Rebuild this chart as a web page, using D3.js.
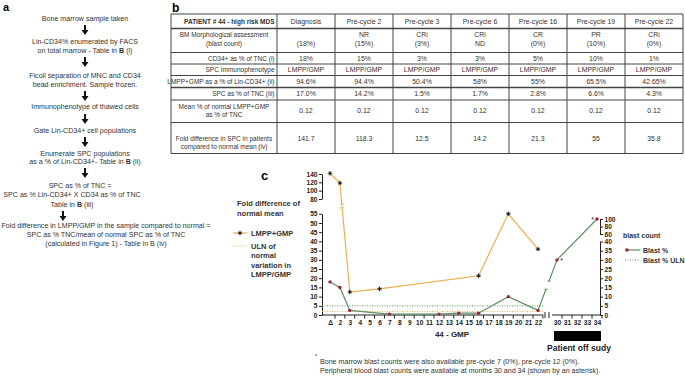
<!DOCTYPE html>
<html>
<head>
<meta charset="utf-8">
<script src="https://cdn.jsdelivr.net/npm/d3@7"></script>
<style>
    body { margin: 0; background: #fff; }
    svg { display: block; font-family: "Liberation Sans", Arial, sans-serif; }
</style>
</head>
<body>
<svg id="fig" width="685" height="376"></svg>
<script>
// ---- panel a: workflow text (**x** = bold)
const flowSteps = [
    ['Bone marrow sample taken'],
    ['Lin-CD34% enumerated by FACS', 'on total marrow - Table in **B** (i)'],
    ['Ficoll separation of MNC and CD34', 'bead enrichment. Sample frozen.'],
    ['Immunophenotype of thawed cells'],
    ['Gate Lin-CD34+ cell populations'],
    ['Enumerate SPC populations', 'as a % of Lin-CD34+- Table in **B** (ii)'],
    ['SPC as % of TNC =', 'SPC as % Lin-CD34+ X CD34 as % of TNC', 'Table in  **B** (iii)'],
    ['Fold difference in LMPP/GMP in the sample compared to normal =',
     'SPC as % TNC/mean of normal SPC as % of TNC',
     '(calculated in Figure 1) - Table in B (iv)']
];

// ---- panel b: table
const timepoints = ['Diagnosis', 'Pre-cycle 2', 'Pre-cycle 3', 'Pre-cycle 6', 'Pre-cycle 16', 'Pre-cycle 19', 'Pre-cycle 22'];
const rowLabels = [
    ['PATIENT # 44 - high risk MDS'],
    ['BM Morphological assessment', '(blast count)'],
    ['CD34+ as % of TNC (i)'],
    ['SPC Immunophenotype'],
    ['LMPP+GMP as a % of Lin-CD34+ (ii)'],
    ['SPC as % of TNC (iii)'],
    ['Mean % of normal LMPP+GMP', 'as % of TNC'],
    ['Fold difference in SPC in patients', 'compared to normal mean (iv)']
];
const bmResponse = ['', 'NR', 'CRi', 'CRi', 'CR', 'PR', 'CRi'];
const bmBlast = ['(18%)', '(15%)', '(3%)', 'ND', '(0%)', '(10%)', '(0%)'];
const cd34Pct = ['18%', '15%', '3%', '3%', '5%', '10%', '1%'];
const immuno = ['LMPP/GMP', 'LMPP/GMP', 'LMPP/GMP', 'LMPP/GMP', 'LMPP/GMP', 'LMPP/GMP', 'LMPP/GMP'];
const lmppPct = ['94.6%', '94.4%', '50.4%', '58%', '55%', '65.5%', '42.65%'];
const spcPct = ['17.0%', '14.2%', '1.5%', '1.7%', '2.8%', '6.6%', '4.3%'];
const normalMean = ['0.12', '0.12', '0.12', '0.12', '0.12', '0.12', '0.12'];
const foldText = ['141.7', '118.3', '12.5', '14.2', '21.3', '55', '35.8'];

// ---- panel c: series (month 1 = diagnosis, shown as Δ)
const lmppMonths = [1, 2, 3, 6, 16, 19, 22];
const lmppFold = [141.7, 118.3, 12.5, 14.2, 21.3, 55, 35.8];
const lmppUln = 2;
const blastMonths = [1, 2, 3, 7, 12, 14, 16, 19, 22, 30, 34];
const blastPct = [18, 15, 2.5, 0.5, 0.5, 1, 1, 10, 2.5, 30, 100];
const blastUln = 5;
const asteriskMonths = [30, 34];
const monthsA = d3.range(1, 23);
const monthsB = [30, 31, 32, 33, 34];
const leftTicksLow = [0, 5, 10, 15, 20, 25, 30, 35, 40, 45, 50, 55];
const leftTicksHigh = [80, 100, 120, 140];
const rightTicksLow = [0, 5, 10, 15, 20, 25, 30, 35, 40];
const rightTicksHigh = [60, 80, 100];

const svg = d3.select('#fig');
const txt = '#333';

// ================= panel a =================
svg.append('text').attr('x', 3).attr('y', 11).attr('font-size', 11).attr('font-weight', 'bold').text('a');

const flowLayout = [
    { x: 85, y: [19] },
    { x: 85, y: [42, 51] },
    { x: 85, y: [76, 85] },
    { x: 85, y: [107] },
    { x: 85, y: [131] },
    { x: 85, y: [154, 162] },
    { x: 80, y: [186, 195, 205] },
    { x: 106, y: [226, 235, 244] }
];
const flowArrows = [[85, 25, 35], [85, 57, 67], [85, 91, 101], [85, 114, 124], [85, 137, 147], [85, 168, 178], [63, 211, 221]];

function richText(sel, str) {
    str.split('**').forEach((part, i) => {
        if (part) sel.append('tspan').attr('font-weight', i % 2 ? 'bold' : null).text(part);
    });
}

flowSteps.forEach((lines, i) => {
    lines.forEach((line, j) => {
        let cx = flowLayout[i].x;
        if (i === 6 && j > 0) cx = 72;
        const t = svg.append('text')
            .attr('x', cx).attr('y', flowLayout[i].y[j]).attr('dy', '0.35em')
            .attr('text-anchor', 'middle').attr('font-size', 7.1).attr('fill', txt);
        richText(t, line);
    });
});

flowArrows.forEach(([x, y0, y1]) => {
    svg.append('line').attr('x1', x).attr('x2', x).attr('y1', y0).attr('y2', y1 - 4)
        .attr('stroke', '#111').attr('stroke-width', 2);
    svg.append('path').attr('d', `M${x - 3.5},${y1 - 5}L${x + 3.5},${y1 - 5}L${x},${y1}Z`).attr('fill', '#111');
});

// ================= panel b =================
svg.append('text').attr('x', 172).attr('y', 12).attr('font-size', 12).attr('font-weight', 'bold').text('b');

const tableLeft = 171, labelRight = 277, tableRight = 683;
const rowEdges = [14, 28.5, 52.5, 64, 75.5, 87.5, 100, 122.5, 153.5];
const rowLines = [[21.5], [35, 43.5], [58.5], [69.5], [81.5], [93.5], [107, 115], [139, 147]];

const colX = d3.scaleBand().domain(timepoints).range([labelRight, tableRight]);

const tb = svg.append('g').attr('font-size', 6.5).attr('fill', txt);

rowEdges.forEach((y, i) => {
    tb.append('line').attr('x1', tableLeft).attr('x2', tableRight).attr('y1', y).attr('y2', y)
        .attr('stroke', '#444').attr('stroke-width', (i === 5 || i === 1) ? 1.6 : 1);
});
[tableLeft, labelRight, ...timepoints.map(t => colX(t) + colX.bandwidth())].forEach(x => {
    tb.append('line').attr('x1', x).attr('x2', x).attr('y1', rowEdges[0]).attr('y2', rowEdges[rowEdges.length - 1])
        .attr('stroke', '#444').attr('stroke-width', 1);
});

rowLabels.forEach((lines, r) => {
    lines.forEach((line, j) => {
        const single = lines.length === 1;
        tb.append('text')
            .attr('x', single ? labelRight - 2.5 : (tableLeft + labelRight) / 2)
            .attr('y', rowLines[r][j]).attr('dy', '0.35em')
            .attr('text-anchor', single ? 'end' : 'middle')
            .attr('font-weight', r === 0 ? 'bold' : null)
            .text(line);
    });
});

const cellRows = [
    timepoints.map(t => [t]),
    timepoints.map((t, i) => [bmResponse[i], bmBlast[i]]),
    cd34Pct.map(v => [v]),
    immuno.map(v => [v]),
    lmppPct.map(v => [v]),
    spcPct.map(v => [v]),
    normalMean.map(v => [v]),
    foldText.map(v => [v])
];
cellRows.forEach((cells, r) => {
    cells.forEach((lines, c) => {
        const cx = colX(timepoints[c]) + colX.bandwidth() / 2;
        lines.forEach((line, j) => {
            let y;
            if (lines.length === 2) y = rowLines[r][j];
            else if (r === 6) y = (rowLines[r][0] + rowLines[r][1]) / 2;
            else y = rowLines[r][0];
            tb.append('text').attr('x', cx).attr('y', y).attr('dy', '0.35em')
                .attr('font-size', 6.9).attr('text-anchor', 'middle').text(line);
        });
    });
});

// ================= panel c =================
svg.append('text').attr('x', 261).attr('y', 180).attr('font-size', 13).attr('font-weight', 'bold').text('c');

const axisX = 322, rAxisX = 600, baseY = 315;
const xA = d3.scaleLinear().domain([1, 22]).range([330, 538]);
const xB = d3.scaleLinear().domain([30, 34]).range([557, 597]);
const xPos = m => (m <= 22 ? xA(m) : xB(m));

const yLow = d3.scaleLinear().domain([0, 55]).range([baseY, 213.8]);
const yHigh = d3.scaleLinear().domain([80, 140]).range([199, 174]);
const yPos = v => (v <= 55 ? yLow(v) : yHigh(v));

const rLow = d3.scaleLinear().domain([0, 40]).range([baseY, 241.5]);
const rHigh = d3.scaleLinear().domain([60, 100]).range([234, 219]);
const rPos = v => (v <= 40 ? rLow(v) : rHigh(v));

const orange = '#f0ad4e';
const green = '#5b8f60';
const red = '#a3213a';

function styleAxis(g) {
    g.selectAll('path').attr('stroke', '#222');
    g.selectAll('line').attr('stroke', '#222');
    g.selectAll('text').attr('font-size', 6.6).attr('font-weight', 'bold').attr('fill', '#222');
}

// left axis (broken)
svg.append('g').attr('transform', `translate(${axisX},0)`)
    .call(d3.axisLeft(yLow).tickValues(leftTicksLow).tickSize(3).tickSizeOuter(0).tickPadding(1.5))
    .call(styleAxis);
svg.append('g').attr('transform', `translate(${axisX},0)`)
    .call(d3.axisLeft(yHigh).tickValues(leftTicksHigh).tickSize(3).tickSizeOuter(0).tickPadding(1.5))
    .call(styleAxis);

// right axis (broken)
svg.append('g').attr('transform', `translate(${rAxisX},0)`)
    .call(d3.axisRight(rLow).tickValues(rightTicksLow).tickSize(3).tickSizeOuter(0).tickPadding(1.5))
    .call(styleAxis);
svg.append('g').attr('transform', `translate(${rAxisX},0)`)
    .call(d3.axisRight(rHigh).tickValues(rightTicksHigh).tickSize(3).tickSizeOuter(0).tickPadding(1.5))
    .call(styleAxis);

// x axis (broken)
function xAxisPart(scale, vals, x0, x1) {
    const g = svg.append('g').attr('transform', `translate(0,${baseY})`);
    g.call(d3.axisBottom(scale).tickValues(vals).tickSize(0).tickPadding(5)
        .tickFormat(d => (d === 1 ? 'Δ' : d)));
    g.select('.domain').remove();
    g.append('line').attr('x1', x0).attr('x2', x1).attr('y1', 0).attr('y2', 0);
    g.selectAll('.tk').data(vals).join('line').attr('class', 'tk')
        .attr('x1', d => scale(d + 0.5)).attr('x2', d => scale(d + 0.5)).attr('y1', 0).attr('y2', 3.5);
    styleAxis(g);
    g.selectAll('line').attr('stroke-width', 1);
}
xAxisPart(xA, monthsA, axisX, 543);
xAxisPart(xB, monthsB, 552, rAxisX);
[545, 549].forEach(x => {
    svg.append('line').attr('x1', x).attr('x2', x).attr('y1', baseY - 3).attr('y2', baseY + 3)
        .attr('stroke', '#222').attr('stroke-width', 1);
});

// ULN reference lines
svg.append('line').attr('x1', axisX).attr('x2', 543).attr('y1', yLow(lmppUln)).attr('y2', yLow(lmppUln))
    .attr('stroke', orange).attr('stroke-width', 1).attr('stroke-dasharray', '1,1.5');
svg.append('line').attr('x1', axisX).attr('x2', 543).attr('y1', rLow(blastUln)).attr('y2', rLow(blastUln))
    .attr('stroke', green).attr('stroke-width', 1).attr('stroke-dasharray', '1,1.5');

// blast % line with break between 22 and 30
const blastPts = blastMonths.map((m, i) => [xPos(m), rPos(blastPct[i])]);
const lineGen = d3.line();
const splitIdx = blastMonths.indexOf(30);
svg.append('path').attr('d', lineGen(blastPts.slice(0, splitIdx)))
    .attr('fill', 'none').attr('stroke', green).attr('stroke-width', 1.2);
svg.append('path').attr('d', lineGen(blastPts.slice(splitIdx)))
    .attr('fill', 'none').attr('stroke', green).attr('stroke-width', 1.2);
(function () {
    const [x0, y0] = blastPts[splitIdx - 1];
    const [x1, y1] = blastPts[splitIdx];
    const at = t => [x0 + (x1 - x0) * t, y0 + (y1 - y0) * t];
    const a = at(0.42), b = at(0.58);
    svg.append('line').attr('x1', x0).attr('y1', y0).attr('x2', a[0]).attr('y2', a[1])
        .attr('stroke', green).attr('stroke-width', 1.2);
    svg.append('line').attr('x1', b[0]).attr('y1', b[1]).attr('x2', x1).attr('y2', y1)
        .attr('stroke', green).attr('stroke-width', 1.2);
    [a, b].forEach(p => {
        svg.append('line').attr('x1', p[0] - 1.5).attr('x2', p[0] + 1.5).attr('y1', p[1]).attr('y2', p[1])
            .attr('stroke', green).attr('stroke-width', 1);
    });
})();

// LMPP+GMP line
const lmppPts = lmppMonths.map((m, i) => [xPos(m), yPos(lmppFold[i])]);
svg.append('path').attr('d', lineGen(lmppPts))
    .attr('fill', 'none').attr('stroke', orange).attr('stroke-width', 1.2);
// break mark where the line crosses the axis break
(function () {
    const [x0, y0] = lmppPts[1];
    const [x1, y1] = lmppPts[2];
    const yb = 206;
    const xb = x0 + (x1 - x0) * (yb - y0) / (y1 - y0);
    svg.append('rect').attr('x', xb - 2).attr('y', yb - 1.5).attr('width', 4).attr('height', 3).attr('fill', '#fff');
    [yb - 1.5, yb + 1.5].forEach(y => {
        svg.append('line').attr('x1', xb - 2.2).attr('x2', xb + 2.2).attr('y1', y + 0.8).attr('y2', y - 0.8)
            .attr('stroke', orange).attr('stroke-width', 1);
    });
})();

// markers
const crossPath = 'M-2.3,0H2.3M0,-2.3V2.3M-1.3,-1.3L1.3,1.3M-1.3,1.3L1.3,-1.3';
svg.selectAll('.lm').data(lmppPts).join('path').attr('class', 'lm')
    .attr('transform', d => `translate(${d[0]},${d[1]})`)
    .attr('d', crossPath).attr('stroke', '#111').attr('stroke-width', 0.9);

svg.selectAll('.bm').data(blastPts).join('circle').attr('class', 'bm')
    .attr('cx', d => d[0]).attr('cy', d => d[1]).attr('r', 1.7).attr('fill', red);

asteriskMonths.forEach((m, k) => {
    const i = blastMonths.indexOf(m);
    svg.append('text').attr('x', xPos(m) + (k === 0 ? 4.5 : -4.5)).attr('y', rPos(blastPct[i]) + 3)
        .attr('text-anchor', 'middle').attr('font-size', 7).attr('fill', '#222').text('*');
});

// left legend
const lg = svg.append('g').attr('font-size', 7.5).attr('font-weight', 'bold').attr('fill', txt);
lg.append('text').attr('x', 237).attr('y', 206).text('Fold difference of');
lg.append('text').attr('x', 237).attr('y', 216).text('normal mean');
lg.append('line').attr('x1', 233).attr('x2', 247).attr('y1', 233).attr('y2', 233).attr('stroke', orange).attr('stroke-width', 1.2);
lg.append('path').attr('transform', 'translate(240,233)').attr('d', crossPath).attr('stroke', '#111').attr('stroke-width', 0.9);
lg.append('text').attr('x', 251).attr('y', 236).text('LMPP+GMP');
lg.append('line').attr('x1', 233).attr('x2', 247).attr('y1', 246).attr('y2', 246)
    .attr('stroke', orange).attr('stroke-width', 1).attr('stroke-dasharray', '1,1.5');
['ULN of', 'normal', 'variation in', 'LMPP/GMP'].forEach((s, i) => {
    lg.append('text').attr('x', 251).attr('y', 249 + i * 9.3).text(s);
});

// right legend
const rg = svg.append('g').attr('font-size', 7).attr('font-weight', 'bold').attr('fill', txt);
rg.append('text').attr('x', 623).attr('y', 238).text('blast count');
rg.append('line').attr('x1', 625).attr('x2', 640).attr('y1', 250).attr('y2', 250).attr('stroke', green).attr('stroke-width', 1.2);
rg.append('circle').attr('cx', 627).attr('cy', 250).attr('r', 1.7).attr('fill', red);
rg.append('text').attr('x', 643).attr('y', 252.5).text('Blast %');
rg.append('line').attr('x1', 625).attr('x2', 640).attr('y1', 260).attr('y2', 260)
    .attr('stroke', green).attr('stroke-width', 1).attr('stroke-dasharray', '1,1.5');
rg.append('text').attr('x', 643).attr('y', 262.5).text('Blast % ULN');

// x labels under axis
svg.append('text').attr('x', 452).attr('y', 337).attr('text-anchor', 'middle')
    .attr('font-size', 8).attr('font-weight', 'bold').attr('fill', '#222').text('44 - GMP');
svg.append('rect').attr('x', xB(30) - 3).attr('y', 331).attr('width', xB(34) - xB(30) + 7).attr('height', 10).attr('fill', '#000');
svg.append('text').attr('x', 579).attr('y', 351).attr('text-anchor', 'middle')
    .attr('font-size', 8.5).attr('font-weight', 'bold').attr('fill', '#222').text('Patient off sudy');

// footnote
svg.append('text').attr('x', 315).attr('y', 358).attr('font-size', 6).attr('fill', txt).text('*');
svg.append('text').attr('x', 320).attr('y', 364).attr('font-size', 7.1).attr('fill', txt)
    .text('Bone marrow blast counts were also available pre-cycle 7 (0%),  pre-cycle 12 (0%).');
svg.append('text').attr('x', 320).attr('y', 373).attr('font-size', 7.1).attr('fill', txt)
    .text('Peripheral blood blast counts were available at months 30 and 34 (shown by an asterisk).');
</script>
</body>
</html>
